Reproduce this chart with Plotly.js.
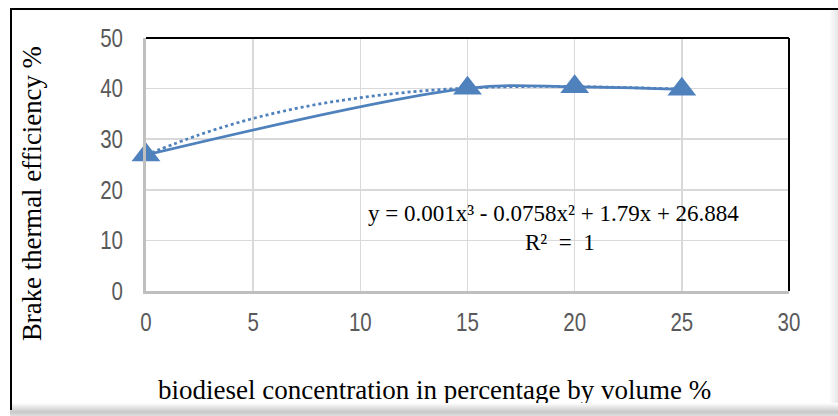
<!DOCTYPE html>
<html><head><meta charset="utf-8">
<script src="https://cdn.plot.ly/plotly-3.0.1.min.js"></script>
<style>
html,body{margin:0;padding:0;background:#fff;width:838px;height:416px;overflow:hidden;}
#chart{width:838px;height:416px;position:absolute;left:0;top:0;}
#frame{position:absolute;left:10px;top:8px;width:840px;height:400px;border-left:2px solid #000;border-top:2px solid #000;pointer-events:none;}
#shadowB{position:absolute;left:10px;top:403px;width:828px;height:13px;background:linear-gradient(#ffffff,#c8c8c8 70%,#e0e0e0);pointer-events:none;}
#shadowR{position:absolute;left:829px;top:10px;width:9px;height:400px;background:linear-gradient(to right,#ffffff,#e6e6e6);pointer-events:none;}
</style></head>
<body>
<div id="chart"></div>
<div id="shadowR"></div>
<div id="shadowB"></div>
<div id="frame"></div>
<script>
// biodiesel concentration (% by volume)
const concentration = [0, 15, 20, 25];
// brake thermal efficiency (%)
const bte = [26.88, 40.05, 40.36, 39.88];
// poly (order 3) trendline
const trendX = [0, 2.5, 5, 7.5, 10, 12.5, 15, 17.5, 20, 22.5, 25];
const trendY = [26.9, 30.9, 34.1, 36.5, 38.2, 39.4, 40.1, 40.4, 40.4, 40.2, 39.9];
const xTicks = [0, 5, 10, 15, 20, 25, 30];
const yTicks = [0, 10, 20, 30, 40, 50];
const xTitle = 'biodiesel concentration in percentage by volume %';
const yTitle = 'Brake thermal efficiency %';
const equation = 'y = 0.001x³ - 0.0758x² + 1.79x + 26.884';
const r2 = 'R²\u00a0\u00a0=\u00a0\u00a01';

const blue = '#4F81BD';
const serif = '"Liberation Serif", "Times New Roman", serif';
const tickFont = {family: '"Liberation Sans", Arial, sans-serif', size: 25, color: '#595959'};

const traces = [
  {x: trendX, y: trendY, type: 'scatter', mode: 'lines',
   line: {color: blue, width: 2.75, dash: 'dot', shape: 'spline'}, hoverinfo: 'skip'},
  {x: concentration, y: bte, type: 'scatter', mode: 'lines+markers', cliponaxis: false,
   line: {color: blue, width: 2.75, shape: 'spline', smoothing: 1},
   marker: {symbol: 'triangle-up', size: 25, color: blue}}
];

const layout = {
  width: 838, height: 416,
  margin: {l: 146, r: 49, t: 38, b: 125},
  paper_bgcolor: '#fff', plot_bgcolor: '#fff',
  showlegend: false,
  xaxis: {range: [0, 30], tickvals: xTicks, ticktext: xTicks.map(String),
    showgrid: true, gridcolor: '#D9D9D9', gridwidth: 1.5, zeroline: false,
    showline: true, linecolor: '#BFBFBF', linewidth: 2.5,
    ticks: '', ticklabelstandoff: 7, tickfont: tickFont, fixedrange: true},
  yaxis: {range: [0, 50], tickvals: yTicks, ticktext: yTicks.map(String),
    showgrid: true, gridcolor: '#D9D9D9', gridwidth: 1.5, zeroline: false,
    showline: true, linecolor: '#BFBFBF', linewidth: 3,
    ticks: '', ticklabelstandoff: 15, tickfont: tickFont, fixedrange: true},
  shapes: [
    {type: 'line', xref: 'paper', yref: 'paper', x0: 0, x1: 1, y0: 1, y1: 1, line: {color: '#000', width: 2}, layer: 'above'},
    {type: 'line', xref: 'paper', yref: 'paper', x0: 1, x1: 1, y0: 0, y1: 1, line: {color: '#000', width: 2}, layer: 'above'}
  ],
  annotations: [
    {text: xTitle, xref: 'paper', yref: 'paper', x: (434 - 146) / 643, y: -(390 - 291) / 253,
     xanchor: 'center', yanchor: 'middle', showarrow: false, font: {family: serif, size: 27, color: '#000'}},
    {text: yTitle, xref: 'paper', yref: 'paper', x: -(146 - 32) / 643, y: (291 - 194) / 253,
     xanchor: 'center', yanchor: 'middle', textangle: -90, showarrow: false, font: {family: serif, size: 26.8, color: '#000'}},
    {text: equation, xref: 'paper', yref: 'paper', x: (553 - 146) / 643, y: (291 - 213) / 253,
     xanchor: 'center', yanchor: 'middle', showarrow: false, font: {family: serif, size: 23, color: '#000'}},
    {text: r2, xref: 'paper', yref: 'paper', x: (560 - 146) / 643, y: (291 - 242) / 253,
     xanchor: 'center', yanchor: 'middle', showarrow: false, font: {family: serif, size: 23, color: '#000'}}
  ]
};

// condense tick label glyphs horizontally (narrow tick font look)
function condenseTicks() {
  document.querySelectorAll('#chart .xtick text, #chart .ytick text').forEach(function (t) {
    const w = t.getComputedTextLength();
    t.setAttribute('textLength', (w * 0.82).toFixed(2));
    t.setAttribute('lengthAdjust', 'spacingAndGlyphs');
  });
}

Plotly.newPlot('chart', traces, layout, {displayModeBar: false, staticPlot: true}).then(condenseTicks);
</script>
</body></html>
